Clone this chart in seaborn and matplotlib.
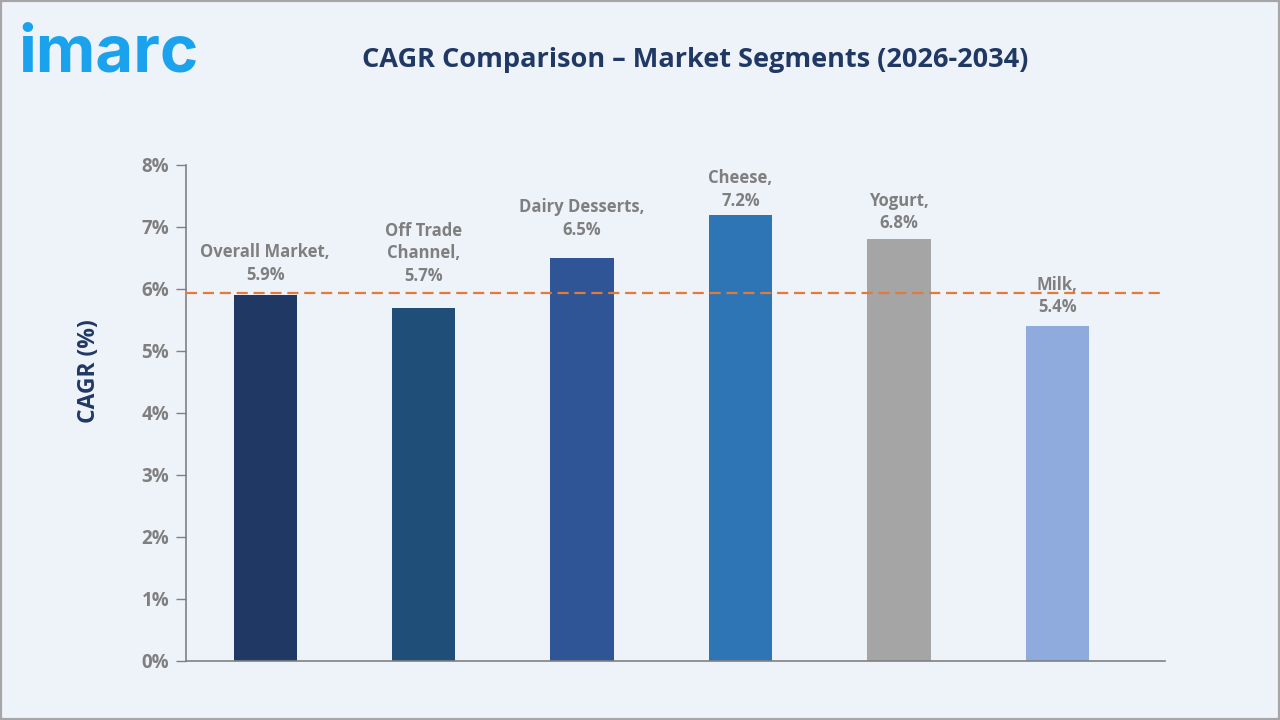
import matplotlib
matplotlib.use("Agg")
import matplotlib.pyplot as plt
import seaborn as sns
import pandas as pd
from matplotlib.patches import Rectangle

categories = ["Overall Market", "Off Trade\nChannel", "Dairy Desserts", "Cheese", "Yogurt", "Milk"]
cagr = [5.9, 5.7, 6.5, 7.2, 6.8, 5.4]
bar_colors = ["#203864", "#1F4E79", "#2F5597", "#2E75B6", "#A5A5A5", "#8FAADC"]
reference_value = 5.94
y_ticks = [0, 1, 2, 3, 4, 5, 6, 7, 8]
label_offsets_pt = [8, 16, 13.5, 3.5, 5, 7]

sns.set_theme(style="white")
plt.rcParams["font.family"] = ["Open Sans", "DejaVu Sans"]

bg = "#EEF2F9"
fig = plt.figure(figsize=(12.8, 7.2), dpi=100, facecolor=bg)
ax = fig.add_axes([186/1280, 1-661/720, (1165-186)/1280, (661-165)/720])
ax.set_facecolor(bg)

df = pd.DataFrame({"cat": categories, "val": cagr})
sns.barplot(data=df, x="cat", y="val", hue="cat", palette=bar_colors,
            width=0.4, legend=False, ax=ax, saturation=1, linewidth=0)

ax.axhline(reference_value, color="#E07B39", linestyle=(0, (5, 2.6)), linewidth=1.6, zorder=3)

for i, (c, v) in enumerate(zip(categories, cagr)):
    ax.annotate(f"{c},\n{v:.1f}%", (i, v), xytext=(0, label_offsets_pt[i]), textcoords="offset points",
                ha="center", va="bottom", fontsize=12, fontweight="bold",
                color="#7F7F7F", linespacing=1.35, zorder=4)

ax.set_xlim(-0.5, 5.68)
ax.set_ylim(0, 8)
ax.set_yticks(y_ticks)
ax.set_yticklabels([f"{t}%" for t in y_ticks])
ax.set_xticks([])
ax.set_xlabel("")
ax.set_ylabel("CAGR (%)", fontsize=16.5, fontweight="bold", color="#203864")
ax.yaxis.set_label_coords((101-186)/979, (661-371)/496)
ax.tick_params(axis="y", length=7, width=1, color="#808080", labelcolor="#7F7F7F",
               labelsize=13.5, pad=5, left=True)
for lab in ax.get_yticklabels():
    lab.set_fontweight("bold")
for s in ["top", "right"]:
    ax.spines[s].set_visible(False)
for s in ["left", "bottom"]:
    ax.spines[s].set_color("#808080")
    ax.spines[s].set_linewidth(1.2)

fig.text(695/1280, 1-60/720, "CAGR Comparison – Market Segments (2026-2034)",
         ha="center", va="center", fontsize=19.5, fontweight="bold", color="#203864")
fig.text(18/1280, 1-55/720, "imarc", ha="left", va="center", fontsize=47,
         fontweight="bold", color="#1AA3EC", family=["Inter", "DejaVu Sans"])

fig.patches.append(Rectangle((0, 0), 1, 1, transform=fig.transFigure, fill=False,
                             edgecolor="#A6A6A6", linewidth=3, zorder=10))

fig.savefig("out.png", dpi=100, facecolor=bg)
